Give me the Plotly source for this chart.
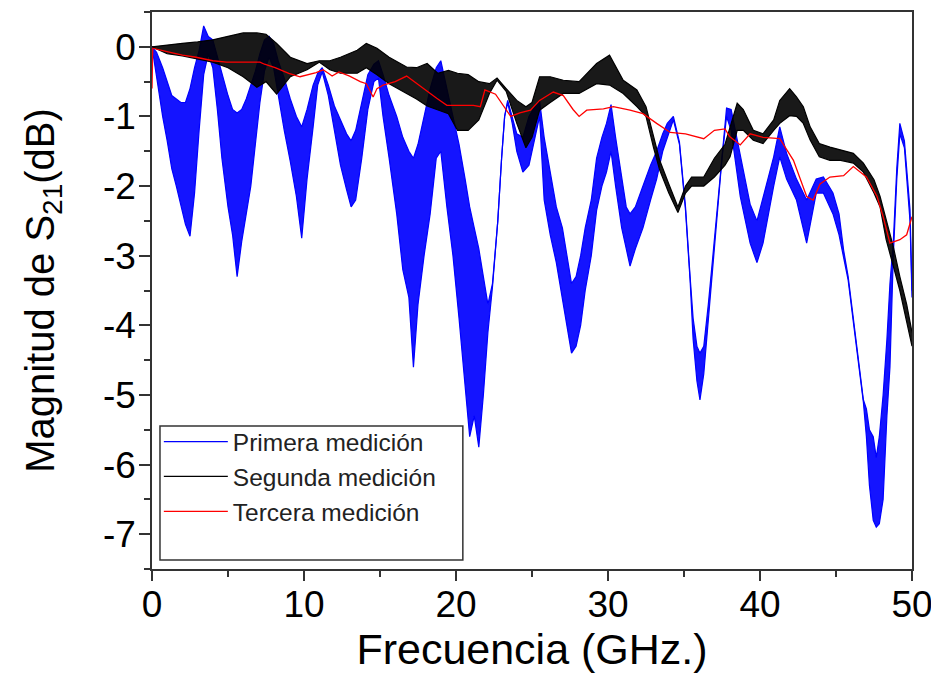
import plotly.graph_objects as go

# ---- Primera medición (blue): frequency, upper and lower envelope of the noisy trace ----
f1 = [0.0, 0.3, 0.7, 1.0, 1.3, 1.6, 1.9, 2.2, 2.5, 2.8, 3.1, 3.4, 3.7, 4.0, 4.3, 4.6, 5.0, 5.3, 5.6, 5.9,
      6.2, 6.5, 6.8, 7.1, 7.4, 7.7, 8.0, 8.3, 8.7, 9.1, 9.5, 9.85, 10.2, 10.6, 10.9, 11.2, 11.6, 12.0, 12.4, 12.8,
      13.1, 13.4, 13.8, 14.2, 14.6, 14.9, 15.2, 15.6, 16.1, 16.5, 16.9, 17.2, 17.5, 17.9, 18.3, 18.7, 19.0, 19.4, 19.8, 20.2,
      20.6, 20.9, 21.2, 21.5, 21.8, 22.1, 22.4, 22.75, 23.0, 23.2, 23.4, 23.7, 24.0, 24.4, 24.8, 25.2, 25.5, 25.8, 26.2, 26.6,
      27.0, 27.3, 27.6, 27.9, 28.2, 28.5, 28.9, 29.25, 29.6, 29.9, 30.2, 30.5, 30.9, 31.2, 31.45, 31.8, 32.3, 32.8, 33.2, 33.6,
      33.9, 34.3, 34.7, 35.1, 35.4, 35.6, 35.85, 36.05, 36.3, 36.6, 36.9, 37.2, 37.5, 37.8, 38.1, 38.7, 39.35, 39.8, 40.2, 40.9,
      41.3, 41.75, 42.4, 43.07, 43.7, 44.17, 44.8, 45.2, 45.5, 45.8, 46.14, 46.5, 46.8, 47.0, 47.2, 47.45, 47.65, 47.85, 48.1, 48.35,
      48.55, 48.77, 49.0, 49.2, 49.5, 49.87, 50.0]
up1 = [0.0, -0.08, -0.3, -0.5, -0.7, -0.75, -0.8, -0.8, -0.6, -0.3, -0.05, 0.3, 0.15, 0.1, -0.15, -0.4, -0.7, -0.9, -0.95, -0.9,
       -0.75, -0.55, -0.35, -0.1, 0.1, 0.15, 0.05, -0.2, -0.45, -0.75, -1.0, -1.15, -0.9, -0.55, -0.38, -0.3, -0.55, -0.85, -1.05, -1.25,
       -1.35, -1.2, -0.8, -0.4, -0.25, -0.2, -0.4, -0.7, -1.0, -1.3, -1.5, -1.6, -1.4, -1.0, -0.6, -0.3, -0.2, -0.6, -1.0, -1.4,
       -1.9, -2.3, -2.6, -2.9, -3.3, -3.7, -3.4, -2.5, -1.6, -1.0, -0.77, -1.0, -1.25, -1.3, -1.0, -0.85, -0.78, -1.3, -1.8, -2.3,
       -2.6, -3.0, -3.4, -3.3, -3.0, -2.6, -2.2, -1.6, -1.3, -1.1, -0.83, -1.3, -1.9, -2.3, -2.4, -2.3, -2.0, -1.7, -1.5, -1.25,
       -1.1, -1.0, -1.37, -2.3, -3.3, -3.9, -4.3, -4.4, -4.3, -3.7, -3.0, -2.3, -1.5, -0.88, -0.9, -1.58, -2.26, -2.5, -2.15, -1.58,
       -1.15, -1.53, -1.9, -2.2, -1.9, -1.87, -2.1, -2.4, -2.92, -3.3, -3.9, -4.5, -5.07, -5.2, -5.5, -5.6, -5.9, -5.6, -5.0, -4.2,
       -3.4, -2.8, -1.74, -1.1, -1.35, -2.34, -3.5]
lo1 = [0.0, -0.45, -1.0, -1.35, -1.75, -2.0, -2.3, -2.55, -2.72, -2.1, -1.2, -0.4, -0.1, -0.3, -0.9, -1.6, -2.3, -2.7, -3.3, -2.8,
       -2.4, -2.0, -1.4, -0.8, -0.35, -0.15, -0.3, -0.7, -1.2, -1.65, -2.15, -2.75, -1.9, -1.15, -0.55, -0.36, -0.7, -1.2, -1.7, -2.05,
       -2.3, -2.2, -1.6, -0.9, -0.5, -0.45, -1.0, -1.6, -2.4, -3.2, -3.6, -4.6, -3.7, -3.0, -2.4, -1.6, -1.5, -2.3, -3.0, -3.9,
       -4.9, -5.6, -5.3, -5.75, -5.0, -4.1, -3.45, -2.5, -1.6, -1.0, -0.8, -1.1, -1.5, -1.8, -1.7, -1.3, -1.0, -2.2, -2.7, -3.1,
       -3.6, -4.0, -4.4, -4.3, -4.0, -3.5, -3.0, -2.35, -2.0, -1.8, -1.5, -2.0, -2.6, -2.9, -3.15, -2.9, -2.6, -2.2, -1.9, -1.5,
       -1.3, -1.05, -1.4, -2.35, -3.35, -4.2, -4.8, -5.07, -4.7, -3.9, -3.2, -2.4, -1.6, -1.0, -1.2, -2.15, -2.82, -3.1, -2.82, -2.0,
       -1.58, -1.9, -2.2, -2.82, -2.1, -2.1, -2.4, -2.7, -3.0, -3.35, -3.95, -4.55, -5.1, -5.6, -6.3, -6.8, -6.9, -6.85, -6.5, -5.3,
       -4.6, -3.0, -1.9, -1.25, -1.45, -2.5, -3.6]

# ---- Segunda medición (black) ----
f2 = [0.0, 1.0, 2.0, 3.0, 4.0, 5.0, 6.0, 6.9, 7.5, 8.2, 9.1, 10.2, 11.0, 11.7, 12.4, 13.5, 14.1, 14.8, 15.6, 16.75,
      17.4, 18.1, 18.8, 19.5, 20.1, 20.8, 21.5, 22.2, 22.7, 23.3, 24.0, 24.6, 25.0, 25.5, 26.2, 27.06, 28.1, 29.25, 30.1, 31.0,
      31.9, 32.5, 33.0, 33.4, 34.0, 34.6, 35.1, 35.5, 36.3, 37.0, 37.7, 38.03, 38.5, 38.9, 39.56, 40.2, 40.9, 41.3, 41.95, 42.4,
      42.85, 43.3, 43.9, 44.6, 45.3, 46.14, 46.8, 47.5, 47.9, 48.3, 48.77, 49.2, 49.65, 50.0]
up2 = [0.0, 0.03, 0.05, 0.07, 0.1, 0.15, 0.2, 0.2, 0.18, 0.05, -0.15, -0.24, -0.2, -0.2, -0.15, -0.05, 0.05, -0.02, -0.15, -0.29,
       -0.3, -0.24, -0.38, -0.34, -0.38, -0.4, -0.5, -0.53, -0.45, -0.6, -0.77, -0.86, -0.8, -0.43, -0.43, -0.48, -0.5, -0.24, -0.12, -0.48,
       -0.62, -0.86, -1.3, -1.63, -1.97, -2.3, -2.0, -1.87, -1.87, -1.6, -1.4, -1.15, -0.81, -0.9, -1.2, -1.25, -1.05, -0.77, -0.6, -0.72,
       -0.86, -1.15, -1.39, -1.44, -1.48, -1.53, -1.67, -1.91, -2.15, -2.48, -2.87, -3.3, -3.7, -4.1]
lo2 = [0.0, -0.1, -0.13, -0.18, -0.22, -0.3, -0.43, -0.58, -0.5, -0.68, -0.43, -0.33, -0.22, -0.33, -0.38, -0.38, -0.3, -0.4, -0.53, -0.67,
       -0.75, -0.85, -0.9, -0.96, -1.2, -1.2, -1.05, -0.67, -0.48, -0.64, -1.1, -1.45, -1.3, -0.91, -0.8, -0.67, -0.67, -0.53, -0.55, -0.67,
       -0.86, -1.0, -1.45, -1.77, -2.1, -2.38, -2.1, -2.0, -2.0, -1.87, -1.7, -1.58, -1.2, -1.2, -1.34, -1.39, -1.2, -1.1, -0.99, -1.0,
       -1.1, -1.34, -1.58, -1.63, -1.63, -1.67, -1.8, -2.1, -2.3, -2.77, -3.15, -3.5, -3.95, -4.3]

# ---- Tercera medición (red) ----
f3 = [0.0, 0.05, 1.2, 2.0, 2.9, 4.0, 4.9, 7.1, 7.4, 8.1, 9.0, 9.74, 10.8, 11.25, 11.6, 11.85, 12.3, 13.0, 13.7, 14.1,
      14.55, 14.8, 15.2, 16.0, 16.75, 17.85, 18.73, 19.4, 20.1, 21.14, 21.6, 21.9, 22.6, 23.1, 23.6, 24.2, 24.9, 25.5, 26.4, 27.06,
      27.7, 28.1, 28.6, 29.7, 30.35, 31.45, 32.3, 33.2, 34.1, 35.1, 36.3, 37.0, 37.7, 38.0, 38.7, 39.35, 40.2, 41.3, 42.2, 43.07,
      43.5, 43.95, 44.6, 45.5, 46.14, 47.0, 47.7, 48.1, 48.55, 49.2, 49.65, 50.0]
s3 = [-0.6, -0.02, -0.08, -0.12, -0.15, -0.2, -0.22, -0.22, -0.25, -0.3, -0.38, -0.43, -0.37, -0.33, -0.38, -0.42, -0.36, -0.42, -0.5, -0.53,
      -0.72, -0.6, -0.55, -0.5, -0.42, -0.6, -0.74, -0.84, -0.84, -0.84, -0.86, -0.62, -0.68, -0.84, -1.0, -0.95, -0.91, -0.77, -0.65, -0.7,
      -0.9, -1.0, -0.91, -0.89, -0.86, -0.91, -0.96, -1.1, -1.23, -1.25, -1.32, -1.2, -1.18, -1.29, -1.41, -1.25, -1.3, -1.32, -1.63, -2.15,
      -2.2, -1.97, -1.87, -1.85, -1.72, -1.87, -2.15, -2.44, -2.82, -2.77, -2.7, -2.44]

names = ["Primera medición", "Segunda medición", "Tercera medición"]
xticks = [0, 10, 20, 30, 40, 50]
xticklabels = ["0", "10", "20", "30", "40", "50"]
yticks = [-7, -6, -5, -4, -3, -2, -1, 0]
yticklabels = ["-7", "-6", "-5", "-4", "-3", "-2", "-1", "0"]

BLUE = "rgb(0,0,255)"
BLACK = "rgb(0,0,0)"
RED = "rgb(255,0,0)"

fig = go.Figure()

# blue band
fig.add_trace(go.Scatter(x=f1, y=lo1, mode="lines", name=names[0], legendgroup="a",
                         line=dict(color=BLUE, width=1.2)))
fig.add_trace(go.Scatter(x=f1, y=up1, mode="lines", showlegend=False, legendgroup="a",
                         line=dict(color=BLUE, width=1.2), fill="tonexty",
                         fillcolor="rgba(0,0,255,0.92)"))
# black band
fig.add_trace(go.Scatter(x=f2, y=lo2, mode="lines", name=names[1], legendgroup="b",
                         line=dict(color=BLACK, width=1.2)))
fig.add_trace(go.Scatter(x=f2, y=up2, mode="lines", showlegend=False, legendgroup="b",
                         line=dict(color=BLACK, width=1.2), fill="tonexty",
                         fillcolor="rgba(0,0,0,0.9)"))
# red line
fig.add_trace(go.Scatter(x=f3, y=s3, mode="lines", name=names[2],
                         line=dict(color=RED, width=1.3)))

FONT = "Liberation Sans, Arial, sans-serif"
axis_common = dict(showline=True, linecolor="#333333", linewidth=1.5, mirror=True,
                   ticks="outside", tickcolor="#333333", tickwidth=1.5,
                   showgrid=False, zeroline=False, automargin=False,
                   tickfont=dict(family=FONT, size=37, color="black"))

fig.update_xaxes(range=[0, 50], tickvals=xticks, ticktext=xticklabels, ticklen=10,
                 ticklabelstandoff=-8,
                 minor=dict(dtick=5, tick0=0, ticks="outside", ticklen=6, tickcolor="#333333", tickwidth=1.5),
                 title=dict(text="Frecuencia (GHz.)", font=dict(family=FONT, size=43, color="black"), standoff=0),
                 **axis_common)
fig.update_yaxes(range=[-7.5, 0.5], tickvals=yticks, ticktext=yticklabels, ticklen=11,
                 ticklabelstandoff=-4,
                 minor=dict(dtick=0.5, tick0=0, ticks="outside", ticklen=6, tickcolor="#333333", tickwidth=1.5),
                 title=dict(text="Magnitud de S<sub>21</sub>(dB)", font=dict(family=FONT, size=40, color="black"), standoff=36),
                 **axis_common)

# legend frame
fig.add_shape(type="rect", xref="paper", yref="paper", x0=0.0105, x1=0.409, y0=0.0162, y1=0.2567,
              line=dict(color="#333333", width=1.5), fillcolor="white", layer="below")

fig.update_layout(
    width=931, height=667,
    margin=dict(l=144, r=27, t=4, b=106, autoexpand=False),
    paper_bgcolor="white", plot_bgcolor="rgba(0,0,0,0)",
    showlegend=True,
    legend=dict(x=0.009, y=0.269, xanchor="left", yanchor="top",
                bgcolor="rgba(0,0,0,0)", borderwidth=0,
                font=dict(family=FONT, size=24.5, color="#222222"),
                itemwidth=64, tracegroupgap=0),
)

fig.write_html("out.html")
